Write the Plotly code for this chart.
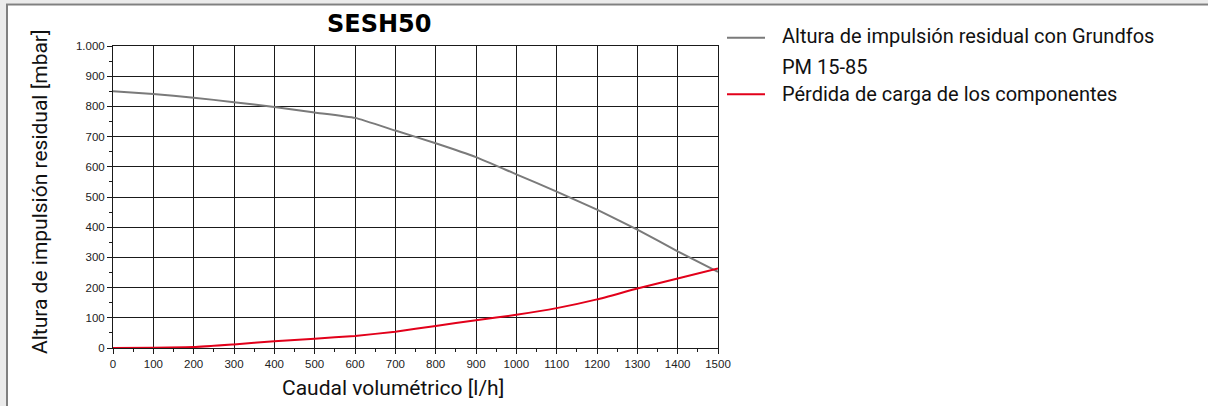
import plotly.graph_objects as go

# ---- data ----
flow = [0, 100, 200, 300, 400, 500, 600, 700, 800, 900, 1000, 1100, 1200, 1300, 1400, 1500]
residual_head = [850, 841, 829, 814, 798, 780, 762, 720, 678, 632, 575, 518, 458, 392, 320, 252]
pressure_loss = [0, 1, 3, 12, 22, 31, 40, 54, 73, 92, 110, 132, 161, 197, 230, 263]

y_tick_vals = [0, 100, 200, 300, 400, 500, 600, 700, 800, 900, 1000]
y_tick_text = ["0", "100", "200", "300", "400", "500", "600", "700", "800", "900", "1.000"]
x_tick_vals = flow
x_tick_text = [str(v) for v in flow]

title_text = "SESH50"
x_title = "Caudal volumétrico [l/h]"
y_title = "Altura de impulsión residual [mbar]"
legend_names = ["Altura de impulsión residual con Grundfos", "PM 15-85", "Pérdida de carga de los componentes"]

GRAY = "#7a7a7a"
RED = "#e2001a"

W, H = 1208, 406
L, R, T, B = 113, 490, 46, 58
PW, PH = W - L - R, H - T - B


def px(x):
    return (x - L) / PW


def py(y):
    return (H - B - y) / PH


fig = go.Figure()
fig.add_trace(go.Scatter(x=flow, y=residual_head, mode="lines", line=dict(color=GRAY, width=2, shape="spline", smoothing=0.4),
                         showlegend=False))
fig.add_trace(go.Scatter(x=flow, y=pressure_loss, mode="lines", line=dict(color=RED, width=2, shape="spline", smoothing=0.4),
                         showlegend=False))

shapes = [
    # frame bands
    dict(type="rect", xref="paper", yref="paper", x0=px(-5), x1=px(6), y0=py(-5), y1=py(420), fillcolor="#ebebeb", line_width=0, layer="below"),
    dict(type="rect", xref="paper", yref="paper", x0=px(-5), x1=px(1215), y0=py(-5), y1=py(3.5), fillcolor="#ebebeb", line_width=0, layer="below"),
    dict(type="line", xref="paper", yref="paper", x0=px(7), x1=px(7), y0=py(4), y1=py(420), line=dict(color="#808080", width=2), layer="below"),
    dict(type="line", xref="paper", yref="paper", x0=px(6), x1=px(1215), y0=py(4.5), y1=py(4.5), line=dict(color="#808080", width=2), layer="below"),
    # legend keys
    dict(type="line", xref="paper", yref="paper", x0=px(727), x1=px(765), y0=py(37.7), y1=py(37.7), line=dict(color=GRAY, width=2)),
    dict(type="line", xref="paper", yref="paper", x0=px(727), x1=px(765), y0=py(94.3), y1=py(94.3), line=dict(color=RED, width=2)),
]

LEG_FONT = dict(family="Roboto, Liberation Sans, sans-serif", size=20, color="#111")
annotations = [
    dict(text=title_text, xref="paper", yref="paper", x=px(379), y=py(24), xanchor="center", yanchor="middle",
         showarrow=False, font=dict(family="DejaVu Sans", size=24, color="#000", weight="bold")),
    dict(text=x_title, xref="paper", yref="paper", x=px(393), y=py(388), xanchor="center", yanchor="middle",
         showarrow=False, font=dict(family="Roboto, Liberation Sans, sans-serif", size=21, color="#111")),
    dict(text=y_title, xref="paper", yref="paper", x=px(40), y=py(192), xanchor="center", yanchor="middle", textangle=-90,
         showarrow=False, font=dict(family="Roboto, Liberation Sans, sans-serif", size=21, color="#111")),
    dict(text=legend_names[0], xref="paper", yref="paper", x=px(780), y=py(35.5), xanchor="left", yanchor="middle",
         showarrow=False, font=LEG_FONT),
    dict(text=legend_names[1], xref="paper", yref="paper", x=px(780), y=py(67), xanchor="left", yanchor="middle",
         showarrow=False, font=LEG_FONT),
    dict(text=legend_names[2], xref="paper", yref="paper", x=px(780), y=py(94), xanchor="left", yanchor="middle",
         showarrow=False, font=LEG_FONT),
]

TICK_FONT = dict(family="Liberation Sans, Arial, sans-serif", size=11.5, color="#222")
fig.update_layout(
    width=W, height=H,
    margin=dict(l=L, r=R, t=T, b=B, pad=0),
    paper_bgcolor="white", plot_bgcolor="white",
    shapes=shapes, annotations=annotations,
    showlegend=False,
    xaxis=dict(range=[0, 1500], tickvals=x_tick_vals, ticktext=x_tick_text, showgrid=True, gridcolor="#1a1a1a", gridwidth=1,
               zeroline=False, showline=True, linecolor="#1a1a1a", linewidth=1, mirror=True,
               ticks="outside", ticklen=5, tickcolor="#1a1a1a", tickfont=TICK_FONT,
               minor=dict(dtick=50, tick0=0, ticks="outside", ticklen=3, tickcolor="#1a1a1a", showgrid=False)),
    yaxis=dict(range=[0, 1000], tickvals=y_tick_vals, ticktext=y_tick_text, showgrid=True, gridcolor="#1a1a1a", gridwidth=1,
               zeroline=False, showline=True, linecolor="#1a1a1a", linewidth=1, mirror=True,
               ticks="outside", ticklen=5, tickcolor="#1a1a1a", tickfont=TICK_FONT,
               minor=dict(dtick=50, tick0=0, ticks="outside", ticklen=3, tickcolor="#1a1a1a", showgrid=False)),
)

fig.write_html("out.html", config={"displayModeBar": False},
               post_script="document.body.style.margin='0';document.body.style.overflow='hidden';")
